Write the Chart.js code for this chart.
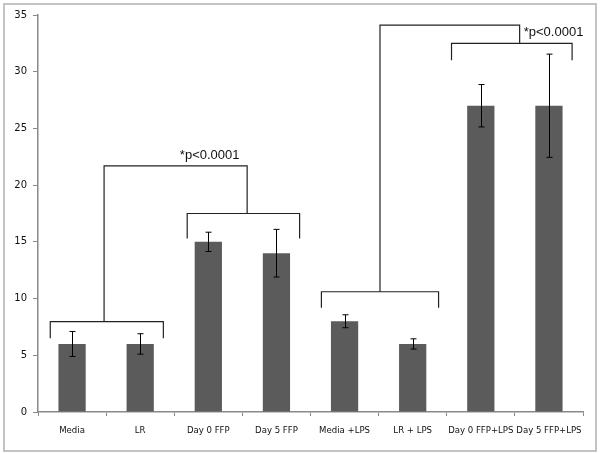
<!DOCTYPE html>
<html>
<head>
<meta charset="utf-8">
<script src="https://cdn.jsdelivr.net/npm/chart.js@4/dist/chart.umd.min.js"></script>
<style>
  html, body { margin: 0; padding: 0; background: #fff; }
  #wrap { width: 600px; height: 453px; position: relative; }
</style>
</head>
<body>
<div id="wrap"><canvas id="chart"></canvas></div>
<script>
// values
const labels = ["Media", "LR", "Day 0 FFP", "Day 5 FFP", "Media +LPS", "LR + LPS", "Day 0 FFP+LPS", "Day 5 FFP+LPS"];
const values = [6, 6, 15, 14, 8, 6, 27, 27];
const errors = [1.1, 0.9, 0.85, 2.1, 0.57, 0.45, 1.87, 4.55];
const yTicks = [0, 5, 10, 15, 20, 25, 30, 35];

// significance brackets, in category / value units
// [left, right, bar y, foot y]
const brackets = [
  [-0.32, 1.34, 7.96, 6.5],
  [1.69, 3.34, 17.5, 15.3],
  [3.66, 5.38, 10.6, 9.2],
  [5.57, 7.34, 32.5, 31.0]
];
// joining lines: [from x, to x, top y, from low y, to low y]
const joins = [
  [0.47, 2.57, 21.7, 7.96, 17.5],
  [4.52, 6.57, 34.1, 10.6, 32.5]
];
const sigLabels = [
  { text: "*p<0.0001", x: 2.02, y: 22.6, align: "center" },
  { text: "*p<0.0001", x: 6.63, y: 33.5, align: "left" }
];

const axisGrey = "#8a8a8a";

const framePlugin = {
  id: "frame",
  beforeDraw(chart) {
    const ctx = chart.ctx;
    ctx.save();
    ctx.fillStyle = "#fff";
    ctx.fillRect(0, 0, chart.width, chart.height);
    ctx.strokeStyle = "#c4c4c4";
    ctx.lineWidth = 2;
    ctx.strokeRect(4, 4, chart.width - 8, chart.height - 6);
    ctx.restore();
  }
};

const errorBarPlugin = {
  id: "errorBars",
  afterDatasetsDraw(chart) {
    const ctx = chart.ctx;
    const x = chart.scales.x, y = chart.scales.y;
    ctx.save();
    ctx.strokeStyle = "#000";
    ctx.lineWidth = 1;
    values.forEach((v, i) => {
      const cx = Math.round(x.getPixelForValue(i)) + 0.5;
      const top = y.getPixelForValue(v + errors[i]);
      const bot = y.getPixelForValue(v - errors[i]);
      ctx.beginPath();
      ctx.moveTo(cx, top); ctx.lineTo(cx, bot);
      ctx.moveTo(cx - 3, top); ctx.lineTo(cx + 3, top);
      ctx.moveTo(cx - 3, bot); ctx.lineTo(cx + 3, bot);
      ctx.stroke();
    });

    // brackets
    ctx.strokeStyle = "#222";
    ctx.lineWidth = 1.2;
    const px = v => x.left + (v + 0.5) * (x.width / labels.length);
    brackets.forEach(b => {
      const l = px(b[0]), r = px(b[1]);
      const hy = y.getPixelForValue(b[2]), fy = y.getPixelForValue(b[3]);
      ctx.beginPath();
      ctx.moveTo(l, fy); ctx.lineTo(l, hy); ctx.lineTo(r, hy); ctx.lineTo(r, fy);
      ctx.stroke();
    });
    joins.forEach(j => {
      const a = px(j[0]), b = px(j[1]);
      ctx.beginPath();
      ctx.moveTo(a, y.getPixelForValue(j[3]));
      ctx.lineTo(a, y.getPixelForValue(j[2]));
      ctx.lineTo(b, y.getPixelForValue(j[2]));
      ctx.lineTo(b, y.getPixelForValue(j[4]));
      ctx.stroke();
    });

    ctx.fillStyle = "#111";
    ctx.font = "13px 'Liberation Sans', Arial, sans-serif";
    ctx.textBaseline = "middle";
    sigLabels.forEach(s => {
      ctx.textAlign = s.align;
      ctx.fillText(s.text, px(s.x), y.getPixelForValue(s.y));
    });
    ctx.restore();
  }
};

new Chart(document.getElementById("chart"), {
  type: "bar",
  data: {
    labels: labels,
    datasets: [{
      data: values,
      backgroundColor: "#5b5b5b",
      borderWidth: 0,
      barPercentage: 0.4,
      categoryPercentage: 1
    }]
  },
  options: {
    responsive: true,
    maintainAspectRatio: false,
    animation: false,
    layout: { padding: { top: 15, right: 17, bottom: 0, left: 0 } },
    plugins: {
      legend: { display: false },
      tooltip: { enabled: false }
    },
    scales: {
      x: {
        afterFit: s => { s.height = 41; },
        grid: {
          display: true,
          drawOnChartArea: false,
          drawTicks: true,
          tickLength: 4,
          color: axisGrey,
          offset: true
        },
        border: { color: axisGrey, width: 1.5 },
        ticks: {
          color: "#111",
          padding: 9,
          maxRotation: 0,
          autoSkip: false,
          font: { family: "'DejaVu Sans Condensed', sans-serif", size: 9.5 }
        }
      },
      y: {
        min: 0,
        max: 35,
        afterFit: s => { s.width = 38; },
        afterBuildTicks: s => { s.ticks = yTicks.map(v => ({ value: v })); },
        grid: {
          display: true,
          drawOnChartArea: false,
          drawTicks: true,
          tickLength: 5,
          color: axisGrey
        },
        border: { color: axisGrey, width: 1.5 },
        ticks: {
          color: "#111",
          padding: 6,
          font: { family: "'DejaVu Sans', sans-serif", size: 10 }
        }
      }
    }
  },
  plugins: [framePlugin, errorBarPlugin]
});
</script>
</body>
</html>
